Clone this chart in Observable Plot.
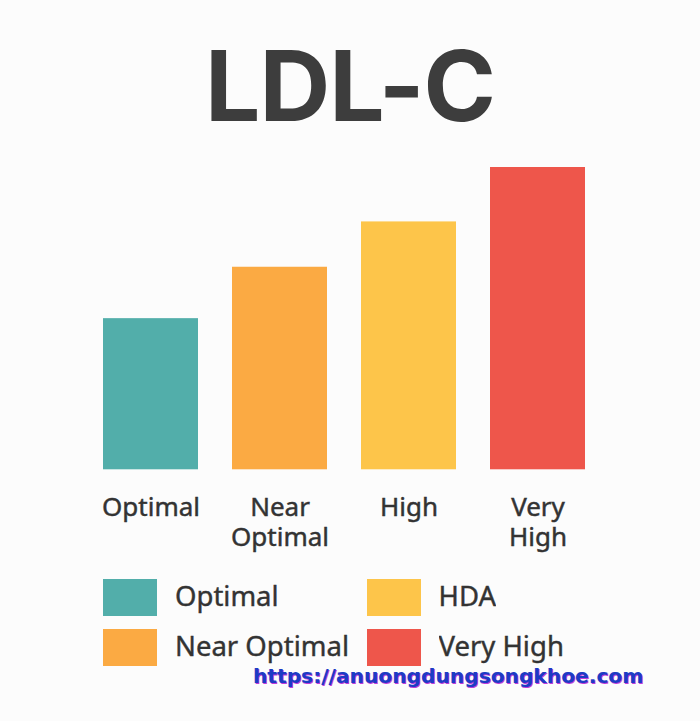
<!DOCTYPE html>
<html>
<head>
<meta charset="utf-8">
<script src="https://cdn.jsdelivr.net/npm/d3@7"></script>
<script src="https://cdn.jsdelivr.net/npm/@observablehq/plot@0.6"></script>
<style>
  html, body { margin: 0; padding: 0; background: #fcfcfc; }
  #page { position: relative; width: 700px; height: 721px; overflow: hidden; background: #fcfcfc; }
  #title { position: absolute; left: 0; top: 37px; width: 700px; text-align: center;
    font-family: Inter, "Liberation Sans", sans-serif; font-weight: 700; font-size: 98px;
    line-height: 98px; color: #3d3d3d; letter-spacing: -1px; }
  #chart { position: absolute; left: 0; top: 150px; }
  #chart text { paint-order: stroke; stroke: #333; stroke-width: 0.45px; }
  #legend { position: absolute; left: 103px; top: 579px; width: 527px; }
  #legend .lg-swatches { columns: 2; column-gap: 0; font-family: "Noto Sans", "Open Sans", sans-serif;
    font-size: 27.5px; color: #333; margin: 0; min-height: 0; -webkit-text-stroke: 0.4px #333; }
  #legend .lg-swatch { display: flex; align-items: center; padding-bottom: 13px; break-inside: avoid; }
  #legend .lg-swatch > svg { margin-right: 18px; }
  #legend .lg-swatch-label { position: relative; top: -2px; }
  #wm { position: absolute; left: 253px; top: 664px; font-family: "DejaVu Sans", sans-serif;
    font-weight: 700; font-size: 20.2px; color: #1d3bc4; text-shadow: 1px 1px 0 #c23ad8; white-space: nowrap; }
</style>
</head>
<body>
<div id="page">
  <div id="title">LDL-C</div>
  <div id="chart"></div>
  <div id="legend"></div>
  <div id="wm">https://anuongdungsongkhoe.com</div>
</div>
<script>
const categories = ["Optimal", "Near Optimal", "High", "Very High"];
const tickLabels = ["Optimal", "Near\nOptimal", "High", "Very\nHigh"];
const values = [50, 67, 82, 100];
const colors = ["#52aeaa", "#fbaa43", "#fdc54a", "#ee564b"];
const legendLabels = ["Optimal", "Near Optimal", "HDA", "Very High"];

const data = categories.map((c, i) => ({cat: c, value: values[i], label: tickLabels[i]}));

const chart = Plot.plot({
  width: 700,
  height: 410,
  marginLeft: 68.5,
  marginRight: 81,
  marginTop: 17,
  marginBottom: 90.7,
  style: {background: "transparent", fontFamily: "'Noto Sans', 'Open Sans', sans-serif"},
  x: {domain: categories, padding: 0.26},
  y: {domain: [0, 100], axis: null},
  color: {domain: categories, range: colors},
  marks: [
    Plot.barY(data, {x: "cat", y: "value", fill: "cat"}),
    Plot.axisX({
      tickSize: 0,
      tickPadding: 25,
      fontSize: 26,
      lineHeight: 1.15,
      fill: "#333",
      tickFormat: (d) => tickLabels[categories.indexOf(d)],
      label: null
    })
  ]
});
document.getElementById("chart").appendChild(chart);

const legend = Plot.legend({
  color: {type: "ordinal", domain: legendLabels, range: colors},
  legend: "swatches",
  columns: 2,
  swatchWidth: 54,
  swatchHeight: 37,
  className: "lg"
});
document.getElementById("legend").appendChild(legend);
</script>
</body>
</html>
